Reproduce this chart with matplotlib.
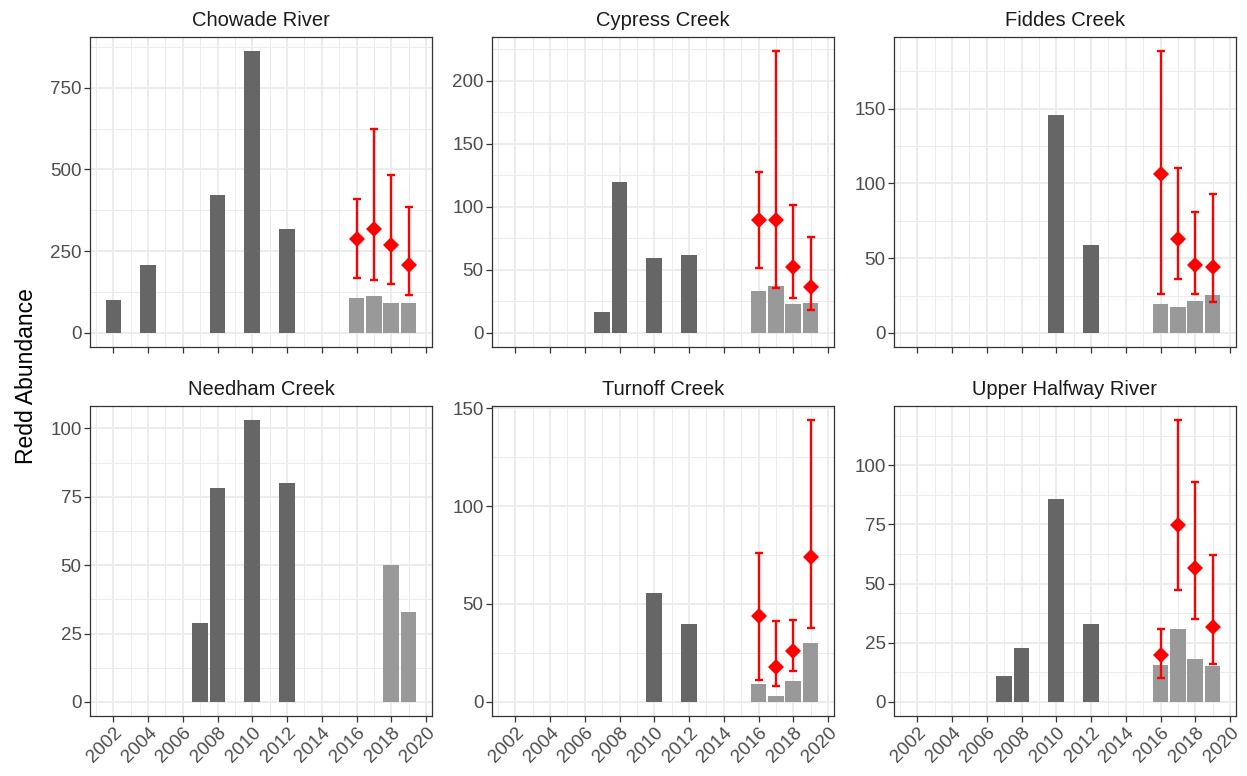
import matplotlib.pyplot as plt
import numpy as np

plt.rcParams['font.family'] = ['Liberation Sans', 'DejaVu Sans']

# Redd counts per river (dark = surveys before 2016, light = 2016 onwards)
chowade_years = [2002, 2004, 2008, 2010, 2012, 2016, 2017, 2018, 2019]
chowade_counts = [102, 207, 423, 862, 318, 106, 114, 92, 90]
chowade_est = [287, 317, 268, 209]
chowade_lo = [167, 162, 149, 115]
chowade_hi = [409, 623, 482, 385]

cypress_years = [2007, 2008, 2010, 2012, 2016, 2017, 2018, 2019]
cypress_counts = [16.5, 120, 59.5, 61.5, 33, 37.5, 23, 23.5]
cypress_est = [89.7, 89.7, 52.4, 36.5]
cypress_lo = [51.6, 36, 27.8, 18]
cypress_hi = [128, 223.5, 101.6, 76]

fiddes_years = [2010, 2012, 2016, 2017, 2018, 2019]
fiddes_counts = [146, 58.6, 19.6, 17.6, 21.6, 25.6]
fiddes_est = [106.5, 62.6, 45.5, 44.4]
fiddes_lo = [25.9, 36.1, 25.9, 20.5]
fiddes_hi = [188.5, 110.5, 80.9, 92.9]

needham_years = [2007, 2008, 2010, 2012, 2018, 2019]
needham_counts = [29, 78, 103, 80, 50, 33]

turnoff_years = [2010, 2012, 2016, 2017, 2018, 2019]
turnoff_counts = [55.8, 39.8, 9, 2.9, 10.9, 29.9]
turnoff_est = [43.7, 17.7, 25.9, 73.8]
turnoff_lo = [11, 8, 16, 37.9]
turnoff_hi = [75.9, 41.2, 42, 143.9]

halfway_years = [2007, 2008, 2010, 2012, 2016, 2017, 2018, 2019]
halfway_counts = [11, 22.9, 85.8, 32.9, 15.8, 30.8, 18, 15]
halfway_est = [19.8, 74.8, 56.7, 31.6]
halfway_lo = [10.3, 47.1, 35, 16]
halfway_hi = [30.9, 119.1, 93.1, 62.2]

est_years = [2016, 2017, 2018, 2019]

panels = [
    ('Chowade River', chowade_years, chowade_counts, chowade_est, chowade_lo, chowade_hi, [0, 250, 500, 750]),
    ('Cypress Creek', cypress_years, cypress_counts, cypress_est, cypress_lo, cypress_hi, [0, 50, 100, 150, 200]),
    ('Fiddes Creek', fiddes_years, fiddes_counts, fiddes_est, fiddes_lo, fiddes_hi, [0, 50, 100, 150]),
    ('Needham Creek', needham_years, needham_counts, None, None, None, [0, 25, 50, 75, 100]),
    ('Turnoff Creek', turnoff_years, turnoff_counts, turnoff_est, turnoff_lo, turnoff_hi, [0, 50, 100, 150]),
    ('Upper Halfway River', halfway_years, halfway_counts, halfway_est, halfway_lo, halfway_hi, [0, 25, 50, 75, 100]),
]

W, H = 1247, 776
fig = plt.figure(figsize=(W / 100, H / 100), dpi=100)

lefts = [90, 492, 894]
tops = [37, 406]
pw, ph = 342, 310

x0, x1 = 2001.55, 2019.45
xpad = 0.05 * (x1 - x0)

for i, (name, years, counts, est, lo, hi, yticks) in enumerate(panels):
    row, col = divmod(i, 3)
    ax = fig.add_axes([lefts[col] / W, 1 - (tops[row] + ph) / H, pw / W, ph / H])

    colors = ['#999999' if y >= 2016 else '#666666' for y in years]
    ax.bar(years, counts, width=0.9, color=colors, zorder=2)

    ymax = max(counts)
    if est is not None:
        est = np.array(est)
        yerr = [est - np.array(lo), np.array(hi) - est]
        ax.errorbar(est_years, est, yerr=yerr, fmt='none', ecolor='red',
                    elinewidth=1.7, capsize=3.2, capthick=1.7, zorder=3)
        ax.plot(est_years, est, 'D', color='red', ms=8.5, mew=0, zorder=4)
        ymax = max(ymax, max(hi))

    ax.set_xlim(x0 - xpad, x1 + xpad)

    ax.set_xticks(range(2002, 2021, 2))
    ax.set_xticks(range(2001, 2021, 2), minor=True)
    ax.set_yticks(yticks)
    step = yticks[1] - yticks[0]
    ax.set_yticks(np.arange(yticks[0] - step / 2, yticks[-1] + step, step), minor=True)
    ax.set_ylim(-0.05 * ymax, 1.05 * ymax)

    ax.grid(which='major', color='#EBEBEB', lw=1.3)
    ax.grid(which='minor', color='#EBEBEB', lw=0.7)
    ax.set_axisbelow(True)
    for s in ax.spines.values():
        s.set_color('#333333')
        s.set_linewidth(0.9)

    ax.tick_params(which='major', length=4, width=0.9, color='#333333',
                   labelcolor='#4D4D4D', labelsize=13.5, pad=2)
    ax.tick_params(which='minor', length=0)

    if row == 0:
        ax.tick_params(labelbottom=False)
    else:
        for lab in ax.get_xticklabels():
            lab.set_rotation(45)
            lab.set_ha('right')
            lab.set_va('top')
            lab.set_rotation_mode('anchor')

    ax.set_title(name, fontsize=14.5, pad=8, color='#1A1A1A')

fig.text(27 / W, 1 - 376 / H, 'Redd Abundance', rotation=90, va='center', ha='center',
         fontsize=16.5)

fig.savefig('out.png', dpi=100)
